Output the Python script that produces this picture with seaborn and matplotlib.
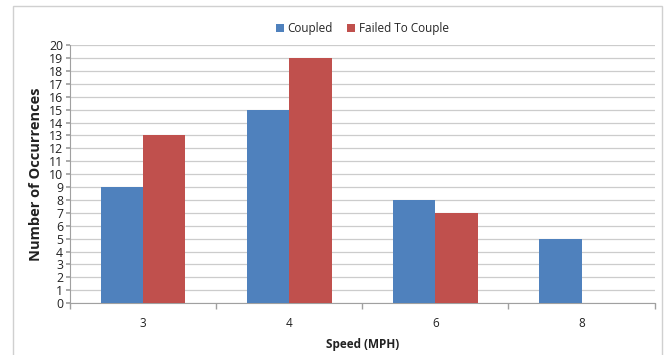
"""Coupling occurrences by speed"""

import matplotlib
matplotlib.use("Agg")
import matplotlib.pyplot as plt
import pandas as pd
import seaborn as sns
from matplotlib.patches import Rectangle

speeds = ["3", "4", "6", "8"]
coupled = [9, 15, 8, 5]
failed = [13, 19, 7, 0]
series_names = ["Coupled", "Failed To Couple"]

sns.set_theme(style="white")
plt.rcParams['font.family'] = ['Open Sans', 'DejaVu Sans']

rows = []
for speed, c, f in zip(speeds, coupled, failed):
    rows.append((speed, series_names[0], c))
    rows.append((speed, series_names[1], f))
df = pd.DataFrame(rows, columns=['Speed', 'Series', 'Count'])

fig = plt.figure(figsize=(6.66, 3.55), dpi=100)
ax = fig.add_axes([0.105, 0.146, 0.878, 0.727])

# outer frame around the whole chart
fig.patches.append(Rectangle((13 / 666, -0.05), 649 / 666, 1.05 - 6 / 355, transform=fig.transFigure,
                             fill=False, edgecolor='#d0d0d0', linewidth=1.0, zorder=0))

sns.barplot(df, x='Speed', y='Count', hue='Series', palette=['#4F81BD', '#C0504D'],
            width=0.58, saturation=1, gap=0, ax=ax, zorder=3, legend=True)
for p in ax.patches:
    p.set_edgecolor('none')

ax.set_xlim(-0.5, 3.5)
ax.set_ylim(0, 20)
ax.set_yticks(range(0, 21))
ax.tick_params(axis='y', labelsize=8.8, length=3, color='#a0a0a0', pad=2, left=True, labelcolor='#222222')
ax.tick_params(axis='x', labelsize=8.5, length=0, pad=10, labelcolor='#222222')
ax.set_xticks([-0.5, 0.5, 1.5, 2.5, 3.5], minor=True)
ax.tick_params(axis='x', which='minor', length=4, color='#a0a0a0', bottom=True)
ax.yaxis.grid(True, color='#cccccc', linewidth=0.9, zorder=0)
ax.set_axisbelow(True)
for side in ['top', 'right']:
    ax.spines[side].set_visible(False)
ax.spines['left'].set_color('#a0a0a0')
ax.spines['bottom'].set_color('#a0a0a0')
ax.spines['left'].set_linewidth(0.8)
ax.spines['bottom'].set_linewidth(0.8)

ax.set_xlabel('Speed (MPH)', fontsize=8.5, fontweight='bold', labelpad=6, color='#222222')
ax.set_ylabel('Number of Occurrences', fontsize=10.5, fontweight='bold', labelpad=4, color='#222222')

ax.legend(loc='lower center', bbox_to_anchor=(0.5, 1.02), ncol=2, frameon=False,
          fontsize=8.5, handlelength=0.7, handleheight=0.7, handletextpad=0.3, columnspacing=1.2,
          borderaxespad=0)

fig.savefig('out.png', dpi=100)
